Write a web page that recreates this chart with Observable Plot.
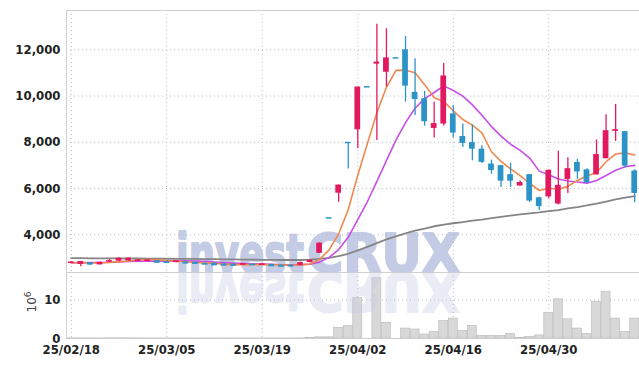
<!DOCTYPE html>
<html><head><meta charset="utf-8">
<script src="https://cdn.jsdelivr.net/npm/d3@7"></script>
<script src="https://cdn.jsdelivr.net/npm/@observablehq/plot@0.6"></script>
<style>
body{margin:0;background:#fff;}
#chart{position:relative;width:639px;height:366px;overflow:hidden;}
#chart svg{display:block;}
</style></head><body><div id="chart"></div>
<script>
const dates = ["25/02/18","25/02/19","25/02/20","25/02/21","25/02/24","25/02/25","25/02/26","25/02/27","25/02/28","25/03/04",
"25/03/05","25/03/06","25/03/07","25/03/10","25/03/11","25/03/12","25/03/13","25/03/14","25/03/17","25/03/18",
"25/03/19","25/03/20","25/03/21","25/03/24","25/03/25","25/03/26","25/03/27","25/03/28","25/03/31","25/04/01",
"25/04/02","25/04/03","25/04/04","25/04/07","25/04/08","25/04/09","25/04/10","25/04/11","25/04/14","25/04/15",
"25/04/16","25/04/17","25/04/18","25/04/21","25/04/22","25/04/23","25/04/24","25/04/25","25/04/28","25/04/29",
"25/04/30","25/05/02","25/05/07","25/05/08","25/05/09","25/05/12","25/05/13","25/05/14","25/05/15","25/05/16"];
const opens = [2780,2720,2800,2700,2850,2860,2870,2890,2890,2880,
2830,2800,2830,2810,2760,2770,2740,2730,2700,2730,
2690,2720,2690,2680,2680,2800,3200,4730,5800,7990,
8540,10400,11380,11030,11650,12000,10160,9890,8600,8790,
9230,8250,7990,7700,7060,6990,6600,6110,6600,5600,
5640,5330,6390,7130,6810,6590,7290,8500,8460,6760];
const highs = [2840,2850,2800,2820,2930,3000,3000,2910,2910,2890,
2880,2870,2840,2820,2790,2780,2760,2740,2750,2740,
2740,2730,2700,2720,2820,2920,3650,4730,6150,7990,
10390,10400,13100,12910,11650,12580,11610,10200,9730,11410,
9590,8790,8760,7850,7230,6990,7090,6330,6600,5640,
6810,7610,7330,7260,6860,8100,9190,9640,8460,6810];
const lows = [2760,2620,2680,2690,2800,2850,2860,2880,2880,2810,
2780,2790,2740,2710,2700,2700,2680,2680,2690,2700,
2680,2660,2620,2600,2660,2790,3190,4730,5410,6850,
7720,10400,8080,10390,11650,9740,9160,8700,8190,8710,
8190,7780,7200,7080,6620,6050,6050,6110,5400,5050,
5560,5290,5790,6400,6210,6590,7290,8040,6900,5390];
const closes = [2810,2840,2690,2810,2870,2990,2990,2900,2900,2820,
2810,2860,2790,2720,2740,2710,2700,2690,2740,2710,
2730,2670,2650,2660,2800,2900,3640,4730,6150,7990,
10390,10400,11470,11650,11650,10430,9850,8890,8810,10870,
8400,7950,7700,7130,6780,6320,6320,6260,5460,5220,
6790,6140,6860,6720,6250,7470,8500,8530,6970,5790];
const volumes = [0.05,0.04,0.04,0.03,0.05,0.06,0.05,0.04,0.03,0.03,
0.03,0.03,0.03,0.02,0.02,0.02,0.02,0.02,0.02,0.02,
0.02,0.02,0.02,0.02,0.04,0.15,0.3,0.3,2.8,3.3,
10.6,0,15.7,4.1,0,2.6,2.35,1.05,1.75,4.6,
5.2,2.0,3.3,0.7,0.7,0.7,1.2,0.2,0.45,0.8,
6.7,10.2,5.0,2.6,1.2,9.6,12.2,5.2,1.75,5.2];
const ma5 = [2790,2795,2780,2785,2804,2840,2870,2912,2930,2920,
2884,2858,2836,2800,2784,2764,2732,2712,2716,2710,
2714,2708,2700,2684,2700,2736,2930,3346,4044,5086,
6580,7932,9280,10380,11112,11120,11010,10494,9926,9770,
9364,8984,8744,8408,7592,7176,6850,6562,6228,5916,
6010,5974,6094,6346,6552,6688,7160,7494,7544,7452];
const ma10 = [2790,2795,2800,2805,2815,2830,2845,2855,2860,2862,
2862,2864,2874,2865,2852,2824,2795,2774,2758,2747,
2739,2720,2706,2700,2706,2725,2819,3023,3364,3892,
4656,5429,6311,7210,8097,8850,9471,9887,10153,10441,
10242,9997,9620,9168,8681,8270,7917,7654,7319,6754,
6593,6412,6328,6287,6234,6349,6567,6794,6945,7002];
const ma60 = [2990,2990,2985,2985,2980,2980,2975,2975,2970,2970,
2965,2960,2960,2955,2950,2945,2940,2935,2930,2925,
2920,2915,2910,2910,2910,2930,2960,3000,3080,3180,
3330,3480,3640,3800,3930,4060,4180,4270,4370,4440,
4500,4550,4610,4660,4720,4780,4830,4880,4930,4970,
5020,5070,5140,5200,5270,5350,5440,5530,5610,5670];
const xTicks = [0,10,20,30,40,50];
const yTicks = [4000,6000,8000,10000,12000];
const volTicks = [0,10];

const UP = "#e3195f", DOWN = "#2c93c6";
const FONT = "'Liberation Sans Narrow','DejaVu Sans Condensed',sans-serif";
const rows = dates.map((d,i)=>({i, date:d, open:opens[i], high:highs[i], low:lows[i], close:closes[i], vol:volumes[i], ma5:ma5[i], ma10:ma10[i], ma60:ma60[i], col: closes[i]>opens[i]?UP:DOWN}));
const xDomain = [-0.5, 59.5];
const grid = {stroke:"#aeb2c4", strokeOpacity:0.9, strokeDasharray:"1,3", strokeWidth:1};

function watermark(flip){
  return (index, scales, values, dim) => {
    const g = d3.create("svg:g");
    const base = flip ? 1 : dim.height - dim.marginBottom;
    if (flip) g.attr("transform", `translate(0,${2*base}) scale(1,-1)`).attr("opacity",0.35);
    const t = g.append("text").attr("y", base).attr("text-anchor","start")
      .attr("font-family","'DejaVu Sans',sans-serif").attr("font-weight","bold")
      .attr("font-size",53).attr("fill","#c4cbe5")
      .attr("stroke","#c4cbe5").attr("stroke-width",2).attr("stroke-linejoin","round");
    t.append("tspan").attr("x",176).attr("textLength",128).attr("lengthAdjust","spacingAndGlyphs").text("invest");
    t.append("tspan").attr("x",307).attr("textLength",153).attr("lengthAdjust","spacingAndGlyphs").text("CRUX");
    return g.node();
  };
}

const topPlot = Plot.plot({
  width:639, height:272, marginLeft:66, marginRight:0, marginTop:10, marginBottom:0,
  style:{fontFamily:FONT, fontSize:"13px", color:"#222", background:"transparent"},
  x:{domain:xDomain, axis:null},
  y:{domain:[2370,13700], axis:null},
  color:{type:"identity"},
  marks:[
    watermark(false),
    Plot.gridX(xTicks, grid),
    Plot.gridY(yTicks, grid),
    Plot.axisY(yTicks, {tickSize:0, tickPadding:6, tickFormat:d3.format(","), fontWeight:"bold", fontSize:13, label:null}),
    Plot.frame({stroke:"#cfcfcf"}),
    Plot.line(rows, {x:"i", y:"ma60", stroke:"#858585", strokeWidth:1.8}),
    Plot.line(rows, {x:"i", y:"ma10", stroke:"#c74fe6", strokeWidth:1.6}),
    Plot.line(rows, {x:"i", y:"ma5", stroke:"#ee8850", strokeWidth:1.6}),
    Plot.ruleX(rows, {x:"i", y1:"low", y2:"high", stroke:"col", strokeWidth:1.3}),
    Plot.rect(rows, {x1:d=>d.i-0.3, x2:d=>d.i+0.3, y1:"open", y2:"close", fill:"col"}),
    Plot.ruleY(rows.filter(d=>Math.abs(d.open-d.close)<80), {x1:d=>d.i-0.3, x2:d=>d.i+0.3, y:"close", stroke:"col", strokeWidth:1.5})
  ]
});

const botPlot = Plot.plot({
  width:639, height:94, marginLeft:66, marginRight:0, marginTop:0, marginBottom:28,
  style:{fontFamily:FONT, fontSize:"13px", color:"#222", background:"transparent"},
  x:{domain:xDomain, axis:null},
  y:{domain:[0,17.2], axis:null},
  marks:[
    Plot.gridX(xTicks, grid),
    Plot.gridY([10], grid),
    Plot.rect(rows, {x1:d=>d.i-0.47, x2:d=>d.i+0.47, y1:0, y2:"vol", fill:"#d8d8d8", stroke:"#b9b9b9", strokeWidth:0.6}),
    Plot.axisY(volTicks, {tickSize:0, tickPadding:6, fontWeight:"bold", fontSize:13, label:null}),
    Plot.axisX(xTicks, {tickSize:0, tickPadding:6, tickFormat:i=>dates[i], fontWeight:"bold", fontSize:13, label:null}),
    Plot.frame({stroke:"#cfcfcf"}),
    watermark(true)
  ]
});

const chart = document.getElementById("chart");
chart.appendChild(topPlot);
chart.appendChild(botPlot);

const unit = d3.select(botPlot).append("text")
  .attr("transform","translate(36,30) rotate(-90)")
  .attr("text-anchor","middle").attr("font-family","'DejaVu Sans',sans-serif")
  .attr("font-size",12).attr("fill","#444");
unit.append("tspan").text("10");
unit.append("tspan").attr("dy",-5).attr("font-size",9).text("6");
</script>
</body></html>
